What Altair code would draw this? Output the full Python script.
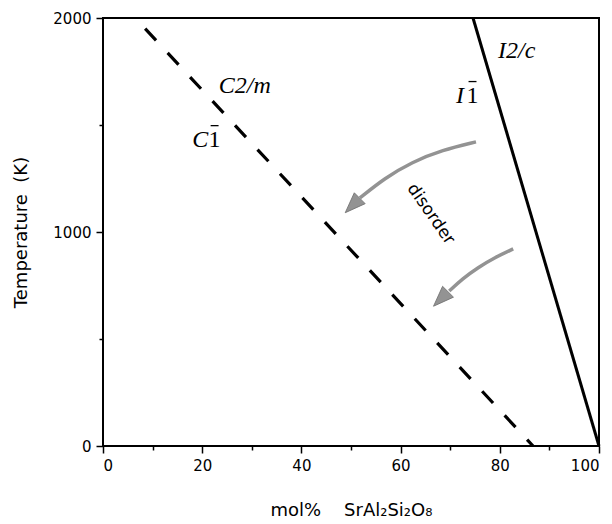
import altair as alt
import pandas as pd

# phase boundaries (mol% SrAl2Si2O8, temperature K)
dashed_x = [8.5, 86.7]
dashed_y = [1950, 0]
solid_x = [74.6, 100]
solid_y = [2000, 0]

# curved "disorder" arrows
arrow1_x = [75.2, 68.4, 62.3, 56.8, 51.8]
arrow1_y = [1421, 1383, 1327, 1252, 1159]
arrow2_x = [82.7, 79.0, 75.6, 72.5, 69.8]
arrow2_y = [921, 881, 834, 782, 724]
head_x = [50.3, 68.1]
head_y = [1124, 687]

# phase labels (italic parts)
ital_text = ["I2/c", "C2/m", "I", "C"]
ital_x = [83.4, 28.6, 72.0, 19.6]
ital_y = [1813, 1650, 1603, 1397]
# upright "1" with bar (triclinic symbols)
one_x = [74.5, 22.5]
one_y = [1603, 1397]

x_ticks = [0, 10, 20, 30, 40, 50, 60, 70, 80, 90, 100]
y_ticks = [0, 500, 1000, 1500, 2000]

xs = alt.Scale(domain=[0, 100], nice=False, zero=False)
ys = alt.Scale(domain=[0, 2000], nice=False, zero=False)

dashed_df = pd.DataFrame({"x": dashed_x, "y": dashed_y})
solid_df = pd.DataFrame({"x": solid_x, "y": solid_y})
a1 = pd.DataFrame({"x": arrow1_x, "y": arrow1_y, "o": range(len(arrow1_x))})
a2 = pd.DataFrame({"x": arrow2_x, "y": arrow2_y, "o": range(len(arrow2_x))})
heads = pd.DataFrame({"x": head_x, "y": head_y})
ital = pd.DataFrame({"t": ital_text, "x": ital_x, "y": ital_y})
ones = pd.DataFrame({"x": one_x, "y": one_y})
bars = pd.DataFrame({
    "x": [v - 0.8 for v in one_x],
    "x2": [v + 0.8 for v in one_x],
    "y": [v + 100 for v in one_y],
})

NB = "\u00a0"
x_axis = alt.Axis(
    values=x_ticks,
    labelExpr="datum.value % 20 == 0 ? datum.label : ''",
    title="mol%" + NB * 4 + "SrAl\u2082Si\u2082O\u2088",
    titleX=248, titleY=64, titleBaseline="middle", titleAlign="center",
    tickSize={"condition": {"test": "datum.value % 20 == 0", "value": 7}, "value": 4},
    labelPadding=5,
)
y_axis = alt.Axis(
    values=y_ticks,
    format="d",
    labelExpr="datum.value % 1000 == 0 ? datum.label : ''",
    title="Temperature" + NB * 2 + "(K)",
    titleX=-82, titleY=214, titleBaseline="middle", titleAlign="center",
    tickSize={"condition": {"test": "datum.value % 1000 == 0", "value": 7}, "value": 4},
    labelPadding=5,
)

dashed = alt.Chart(dashed_df).mark_line(
    color="black", strokeWidth=3.2, strokeDash=[16, 17], strokeCap="butt"
).encode(
    x=alt.X("x:Q", scale=xs, axis=x_axis),
    y=alt.Y("y:Q", scale=ys, axis=y_axis),
)

solid = alt.Chart(solid_df).mark_line(color="black", strokeWidth=3).encode(
    x=alt.X("x:Q", scale=xs), y=alt.Y("y:Q", scale=ys)
)

arrow_color = "#939393"
arr1 = alt.Chart(a1).mark_line(color=arrow_color, strokeWidth=3.5, interpolate="basis").encode(
    x=alt.X("x:Q", scale=xs), y=alt.Y("y:Q", scale=ys), order="o:O"
)
arr2 = alt.Chart(a2).mark_line(color=arrow_color, strokeWidth=3.5, interpolate="basis").encode(
    x=alt.X("x:Q", scale=xs), y=alt.Y("y:Q", scale=ys), order="o:O"
)
head = alt.Chart(heads).mark_point(
    shape="M0,-1L0.75,1L-0.75,1Z", filled=True, size=420, angle=225,
    color=arrow_color, opacity=1, stroke="#707070", strokeWidth=0.8
).encode(x=alt.X("x:Q", scale=xs), y=alt.Y("y:Q", scale=ys))

ital_labels = alt.Chart(ital).mark_text(
    font="Liberation Serif", fontStyle="italic", fontSize=24,
    align="center", baseline="alphabetic", color="black"
).encode(x=alt.X("x:Q", scale=xs), y=alt.Y("y:Q", scale=ys), text="t:N")

one_labels = alt.Chart(ones).mark_text(
    font="Liberation Serif", fontSize=24, text="1",
    align="center", baseline="alphabetic", color="black"
).encode(x=alt.X("x:Q", scale=xs), y=alt.Y("y:Q", scale=ys))

bar_marks = alt.Chart(bars).mark_rule(color="black", strokeWidth=1.3).encode(
    x=alt.X("x:Q", scale=xs), x2="x2:Q", y=alt.Y("y:Q", scale=ys)
)

disorder = alt.Chart(pd.DataFrame({"t": ["disorder"], "x": [66.1], "y": [1084]})).mark_text(
    font="DejaVu Sans", fontSize=17, angle=55, align="center", baseline="middle", color="black"
).encode(x=alt.X("x:Q", scale=xs), y=alt.Y("y:Q", scale=ys), text="t:N")

chart = alt.layer(dashed, solid, arr1, arr2, head, ital_labels, one_labels, bar_marks, disorder).properties(
    width=496, height=428,
    autosize=alt.AutoSizeParams(type="none"),
    padding={"left": 95, "top": 10, "right": 5, "bottom": 86},
).configure_view(
    stroke="black", strokeWidth=2
).configure_axis(
    grid=False, domain=False, tickColor="black", tickWidth=1.5,
    labelFont="DejaVu Sans", labelFontSize=15, labelColor="black",
    titleFont="DejaVu Sans", titleFontSize=18, titleFontWeight="normal", titleColor="black",
)

chart.save("out.html", embed_options={"renderer": "svg", "actions": False})
